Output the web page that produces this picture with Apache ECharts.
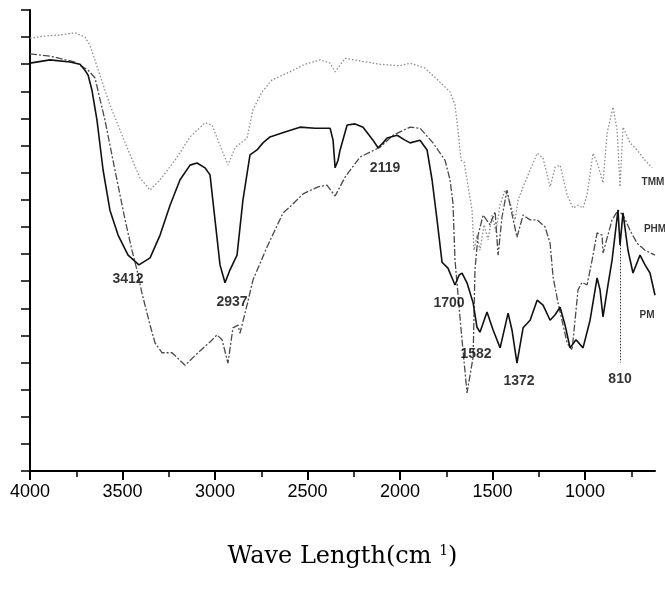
<!DOCTYPE html>
<html>
<head>
<meta charset="utf-8">
<script src="https://cdn.jsdelivr.net/npm/echarts@6/dist/echarts.min.js"></script>
<style>
html, body { margin: 0; padding: 0; background: #fff; }
#chart { width: 665px; height: 591px; }
</style>
</head>
<body>
<div id="chart"></div>
<script>
// [wavenumber (cm-1), transmittance (%)]
const tmmData = [
  [4000, 79.8], [3919, 80.2], [3838, 80.4], [3757, 80.8], [3703, 80.0], [3676, 78.5],
  [3622, 73.0], [3568, 67.5], [3514, 62.9], [3459, 58.3], [3405, 54.0], [3351, 51.8],
  [3297, 53.7], [3216, 57.3], [3135, 61.6], [3054, 64.2], [3016, 63.8], [2984, 61.0],
  [2930, 56.4], [2892, 59.6], [2827, 61.4], [2795, 66.6], [2746, 69.9], [2692, 72.1],
  [2595, 73.6], [2514, 75.0], [2432, 75.8], [2378, 75.2], [2351, 73.6], [2297, 76.1],
  [2216, 75.6], [2108, 75.0], [2000, 74.7], [1946, 75.2], [1865, 74.3], [1784, 71.7],
  [1730, 69.9], [1703, 67.5], [1687, 62.9], [1670, 57.3], [1654, 57.0], [1632, 52.4],
  [1611, 48.1], [1600, 40.7], [1584, 43.5], [1568, 40.7], [1546, 45.4], [1524, 42.6],
  [1503, 47.2], [1481, 44.1], [1460, 49.0], [1433, 51.8], [1405, 49.4], [1378, 46.3],
  [1362, 50.0], [1335, 52.4], [1297, 55.5], [1259, 58.6], [1227, 57.7], [1189, 52.4],
  [1162, 56.0], [1135, 56.4], [1097, 50.9], [1065, 48.5], [1038, 49.0], [1011, 48.5],
  [989, 50.9], [957, 58.6], [930, 56.4], [903, 53.1], [881, 62.3], [849, 67.1],
  [827, 62.9], [811, 52.4], [795, 63.4], [757, 60.5], [719, 59.2], [676, 57.3], [638, 55.9]
]

const phmData = [
  [4000, 76.9], [3892, 76.5], [3757, 75.4], [3686, 73.9], [3649, 72.5], [3595, 64.7],
  [3541, 55.5], [3486, 46.3], [3449, 40.7], [3422, 37.1], [3395, 32.8], [3351, 26.9],
  [3324, 23.6], [3286, 21.8], [3232, 21.8], [3162, 19.5], [3092, 21.8], [3027, 23.8],
  [2989, 25.1], [2962, 24.2], [2930, 19.9], [2903, 26.4], [2876, 26.9], [2865, 25.4],
  [2827, 30.6], [2795, 35.2], [2719, 41.3], [2632, 47.6], [2595, 48.7], [2524, 51.1],
  [2443, 52.4], [2395, 52.7], [2351, 50.7], [2297, 54.2], [2216, 57.9], [2108, 59.7],
  [2038, 61.9], [1946, 63.4], [1892, 63.2], [1822, 60.5], [1757, 57.3], [1730, 53.7],
  [1714, 49.4], [1703, 38.9], [1670, 26.0], [1638, 14.4], [1605, 21.0], [1595, 37.1],
  [1578, 43.5], [1551, 47.2], [1514, 45.4], [1486, 47.8], [1470, 39.8], [1449, 46.8],
  [1422, 51.8], [1405, 49.0], [1368, 43.1], [1335, 47.2], [1297, 46.3], [1259, 46.3],
  [1216, 45.0], [1189, 42.0], [1173, 35.8], [1146, 31.0], [1097, 23.6], [1070, 22.3],
  [1038, 33.4], [1016, 34.8], [989, 34.3], [962, 38.9], [935, 43.9], [908, 43.5],
  [903, 40.2], [854, 46.3], [822, 48.1], [795, 47.2], [757, 44.4], [719, 42.0],
  [676, 40.7], [622, 39.8]
]

const pmData = [
  [4000, 75.2], [3892, 75.8], [3784, 75.4], [3730, 75.0], [3703, 73.9], [3686, 73.0],
  [3665, 70.2], [3638, 64.7], [3605, 55.5], [3568, 48.1], [3524, 43.5], [3470, 39.8],
  [3411, 38.0], [3351, 39.3], [3297, 43.5], [3243, 49.0], [3189, 53.7], [3135, 56.4],
  [3097, 56.8], [3054, 55.9], [3027, 54.6], [3000, 46.3], [2973, 38.0], [2946, 34.7],
  [2919, 37.1], [2881, 39.8], [2849, 50.0], [2811, 58.3], [2773, 59.2], [2741, 60.5],
  [2703, 61.6], [2622, 62.5], [2541, 63.4], [2459, 63.2], [2378, 63.2], [2362, 61.0],
  [2351, 55.9], [2335, 57.3], [2324, 59.2], [2286, 63.8], [2243, 64.0], [2200, 63.4],
  [2146, 61.0], [2119, 59.6], [2092, 60.5], [2070, 61.4], [2016, 61.9], [1973, 61.0],
  [1946, 60.5], [1892, 61.0], [1854, 59.2], [1827, 53.7], [1800, 46.3], [1773, 38.5],
  [1741, 37.4], [1703, 34.3], [1681, 36.1], [1665, 36.5], [1638, 34.7], [1605, 31.0],
  [1584, 26.5], [1568, 25.6], [1530, 29.3], [1497, 26.0], [1459, 22.7], [1416, 29.1],
  [1395, 26.0], [1368, 19.9], [1335, 26.4], [1297, 27.8], [1259, 31.5], [1227, 30.6],
  [1189, 27.8], [1162, 28.8], [1135, 30.2], [1108, 26.9], [1081, 22.7], [1049, 24.2],
  [1011, 22.7], [973, 27.8], [935, 35.6], [919, 33.4], [903, 28.4], [876, 34.3],
  [854, 38.9], [822, 48.1], [811, 41.7], [795, 47.6], [768, 40.7], [741, 36.5],
  [703, 39.8], [676, 38.0], [649, 36.5], [622, 32.4]
]

// peak labels: [text, wavenumber, transmittance]
const peakLabels = [
  ['3412', 3470, 35.4], ['2937', 2908, 31.2], ['2119', 2081, 55.9],
  ['1700', 1735, 31.0], ['1582', 1589, 21.6], ['1372', 1357, 16.6], ['810', 811, 17.0]
]
const seriesLabels = [['TMM', 633, 53.3], ['PHM', 622, 44.6], ['PM', 665, 28.8]]
// marker line under the 810 band
const mark810 = [[810, 41.7], [810, 20.0]]

const majorTicks = [4000, 3500, 3000, 2500, 2000, 1500, 1000]
const minorTicks = [3750, 3250, 2750, 2250, 1750, 1250, 750]

const chart = echarts.init(document.getElementById('chart'))

const option = {
  animation: false,
  backgroundColor: '#fff',
  grid: { left: 30, right: 10, top: 10, bottom: 120 },
  xAxis: [
    {
      type: 'value',
      min: 622,
      max: 4000,
      inverse: true,
      name: 'Wave Length(cm {sup|1})',
      nameLocation: 'middle',
      nameGap: 73,
      nameTextStyle: {
        fontFamily: 'DejaVu Serif',
        fontSize: 24,
        color: '#000',
        rich: {
          sup: { fontFamily: 'DejaVu Serif', fontSize: 14, color: '#000', padding: [0, 0, 12, 0] }
        }
      },
      axisLine: { show: true, lineStyle: { color: '#000', width: 2 } },
      axisTick: { show: true, customValues: majorTicks, length: 9, lineStyle: { color: '#000', width: 2 } },
      axisLabel: {
        customValues: majorTicks,
        margin: 12,
        fontFamily: 'Liberation Sans',
        fontSize: 18,
        color: '#000',
        formatter: v => String(v)
      },
      splitLine: { show: false }
    },
    {
      type: 'value',
      min: 622,
      max: 4000,
      inverse: true,
      position: 'bottom',
      offset: 0,
      axisLine: { show: false },
      axisTick: { show: true, customValues: minorTicks, length: 6, lineStyle: { color: '#000', width: 1.5 } },
      axisLabel: { show: false },
      splitLine: { show: false }
    }
  ],
  yAxis: {
    type: 'value',
    min: 0,
    max: 85,
    interval: 5,
    axisLine: { show: true, lineStyle: { color: '#000', width: 2 } },
    axisTick: { show: true, length: 9, lineStyle: { color: '#000', width: 1.5 } },
    axisLabel: { show: false },
    splitLine: { show: false }
  },
  series: [
    {
      name: 'TMM',
      type: 'line',
      data: tmmData,
      showSymbol: false,
      symbol: 'none',
      lineStyle: { color: '#8c8c8c', width: 1.3, type: [1.5, 2] }
    },
    {
      name: 'PHM',
      type: 'line',
      data: phmData,
      showSymbol: false,
      symbol: 'none',
      lineStyle: { color: '#4a4a4a', width: 1.3, type: [7, 2, 2, 2] }
    },
    {
      name: 'PM',
      type: 'line',
      data: pmData,
      showSymbol: false,
      symbol: 'none',
      lineStyle: { color: '#111', width: 1.6 },
      markLine: {
        silent: true,
        symbol: 'none',
        label: { show: false },
        lineStyle: { color: '#333', width: 1, type: [1.5, 1.5] },
        data: [[{ coord: mark810[0] }, { coord: mark810[1] }]]
      }
    },
    {
      type: 'scatter',
      symbolSize: 0,
      clip: false,
      z: 10,
      data: peakLabels.map(p => ({ name: p[0], value: [p[1], p[2]] })),
      label: {
        show: true,
        position: 'inside',
        formatter: '{b}',
        fontFamily: 'Liberation Sans',
        fontWeight: 'bold',
        fontSize: 14,
        color: '#000'
      }
    },
    {
      type: 'scatter',
      symbolSize: 0,
      clip: false,
      z: 10,
      data: seriesLabels.map(p => ({ name: p[0], value: [p[1], p[2]] })),
      label: {
        show: true,
        position: 'inside',
        formatter: '{b}',
        fontFamily: 'Liberation Sans Narrow, Liberation Sans',
        fontWeight: 'bold',
        fontSize: 10,
        color: '#000'
      }
    }
  ]
}

chart.setOption(option)
</script>
</body>
</html>
